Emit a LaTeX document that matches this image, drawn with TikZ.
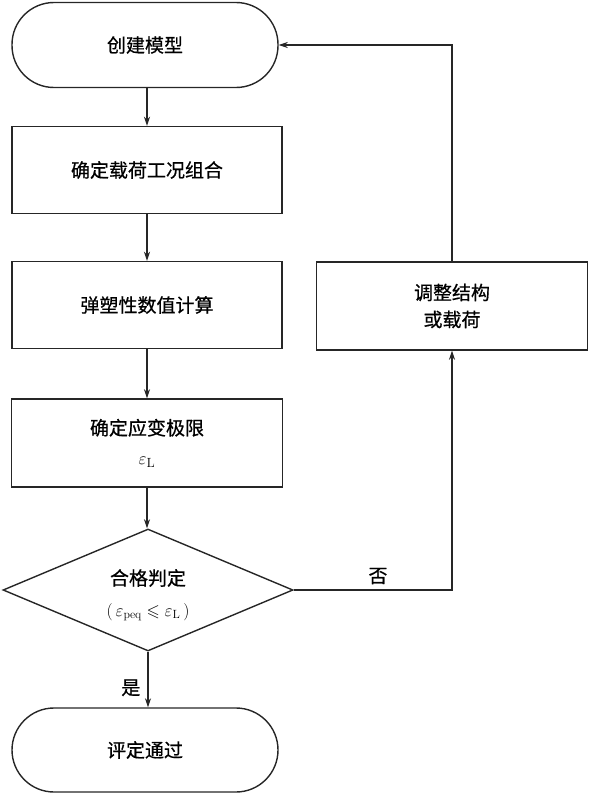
\documentclass[tikz,border=0pt]{standalone}
\usepackage{amssymb}
\usepackage{fontspec}
\newfontfamily\cjk[FakeBold=0.6]{Noto Sans CJK SC}
\usetikzlibrary{shapes.geometric,arrows.meta}
\tikzset{
  base/.style={draw=black!85, line width=1.4pt, font=\cjk\fontsize{19}{27}\selectfont, align=center, inner sep=0pt},
  term/.style={base, minimum width=266pt, minimum height=85pt, rounded corners=42pt},
  box/.style={base, minimum width=270pt, minimum height=87pt},
  dia/.style={draw=black!85, line width=1.4pt, diamond, minimum width=290pt, minimum height=122pt, inner sep=0pt},
  lbl/.style={font=\cjk\fontsize{19}{27}\selectfont, inner sep=1pt},
  arr/.style={draw=black!85, line width=1.3pt, -{Stealth[length=9pt,width=6pt]}}
}
\begin{document}
\begin{tikzpicture}[x=1pt,y=-1pt]
\useasboundingbox (0,0) rectangle (592,795);
\node[term] (start) at (145,45) {创建模型};
\node[box] (load) at (147,170) {确定载荷工况组合};
\node[box] (calc) at (147,305) {弹塑性数值计算};
\node[box, minimum width=271pt, minimum height=88pt] (limit) at (147,443) {确定应变极限\\[2pt]{\normalfont$\varepsilon_{\mathrm{L}}$}};
\node[dia] (judge) at (148,590) {};
\node[lbl] (jtext) at (148,578) {合格判定};
\node[lbl, font=\fontsize{17}{20}\selectfont] (jcond) at (148,612) {$(\,\varepsilon_{\mathrm{peq}}\leqslant\varepsilon_{\mathrm{L}}\,)$};
\node[term, minimum height=84pt] (end) at (145,750) {评定通过};
\node[box, minimum width=271pt, minimum height=88pt] (adjust) at (452,306) {调整结构\\或载荷};
\node[lbl] (no) at (378,576) {否};
\draw[arr] (start.south -| load.north) -- (load.north);
\draw[arr] (load) -- (calc);
\draw[arr] (calc) -- (limit);
\draw[arr] (limit.south) -- (limit.south |- judge.north);
\draw[arr] (judge.south) -- (judge.south |- end.north) node[lbl, pos=0.65, left=6pt] (yes) {是};
\draw[arr] (judge.east) -| (adjust.south);
\draw[arr] (adjust.north) |- (start.east);
\end{tikzpicture}
\end{document}
